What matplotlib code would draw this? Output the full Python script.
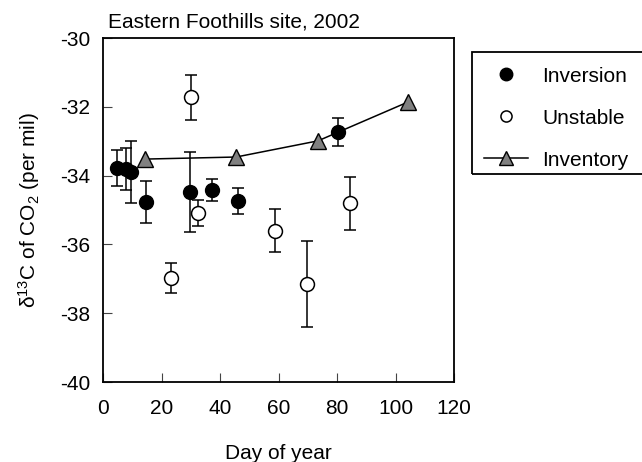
import matplotlib
matplotlib.use("Agg")
from matplotlib import pyplot as plt
from matplotlib.lines import Line2D
from matplotlib.patches import Rectangle

plt.rcParams['font.family'] = ['Liberation Sans', 'DejaVu Sans']
plt.rcParams['mathtext.fontset'] = 'custom'
plt.rcParams['mathtext.rm'] = 'Liberation Sans'
plt.rcParams['mathtext.it'] = 'Liberation Sans'
plt.rcParams['mathtext.default'] = 'regular'

# Inversion (filled circles)
inv_day = [4.8, 7.8, 9.5, 14.6, 29.6, 37.2, 46.3, 80.2]
inv_d13c = [-33.78, -33.80, -33.90, -34.77, -34.48, -34.42, -34.74, -32.73]
inv_err = [0.52, 0.61, 0.90, 0.60, 1.17, 0.32, 0.38, 0.40]

# Unstable (open circles)
uns_day = [23.2, 30.1, 32.5, 58.8, 69.7, 84.4]
uns_d13c = [-36.98, -31.72, -35.09, -35.60, -37.15, -34.80]
uns_err = [0.44, 0.65, 0.38, 0.62, 1.25, 0.77]

# Inventory (triangles)
ivt_day = [14.4, 45.5, 73.5, 104.3]
ivt_d13c = [-33.52, -33.46, -32.99, -31.86]

xticks = [0, 20, 40, 60, 80, 100, 120]
yticks = [-40, -38, -36, -34, -32, -30]

fig = plt.figure(figsize=(6.42, 4.62), dpi=100)
ax = fig.add_axes([103 / 642, 80 / 462, 351 / 642, 344 / 462])

# Inventory line
ax.plot(ivt_day, ivt_d13c, color='black', lw=1.1, marker='^', markersize=12,
        markerfacecolor='#808080', markeredgecolor='black', markeredgewidth=1.0, zorder=2)

# Unstable points
ax.errorbar(uns_day, uns_d13c, yerr=uns_err, fmt='o', color='black', ecolor='black',
            elinewidth=1.1, capsize=4, capthick=1.1, markersize=10,
            markerfacecolor='white', markeredgecolor='black', markeredgewidth=1.1, zorder=3)

# Inversion points
ax.errorbar(inv_day, inv_d13c, yerr=inv_err, fmt='o', color='black', ecolor='black',
            elinewidth=1.1, capsize=4, capthick=1.1, markersize=10,
            markerfacecolor='black', markeredgecolor='black', zorder=4)

ax.set_xlim(0, 120)
ax.set_ylim(-40, -30)
ax.set_xticks(xticks)
ax.set_yticks(yticks)
ax.set_xticklabels([str(t) for t in xticks])
ax.set_yticklabels([str(t) for t in yticks])
ax.tick_params(direction='in', length=6.5, width=0.8, labelsize=15, color='#444444')
ax.tick_params(axis='x', pad=12)
ax.tick_params(axis='y', pad=9)
for s in ax.spines.values():
    s.set_linewidth(1.3)

ax.set_xlabel('Day of year', fontsize=15, labelpad=19)
ax.set_ylabel('δ$^{13}$C of CO$_2$ (per mil)', fontsize=15, labelpad=13)
fig.text(108 / 642, 1 - 27 / 462, 'Eastern Foothills site, 2002', fontsize=15,
         ha='left', va='baseline')

# Legend box (runs off the right edge of the figure)
fig.patches.append(Rectangle((472 / 642, 1 - 174 / 462), 200 / 642, 122 / 462,
                             transform=fig.transFigure, fill=False,
                             edgecolor='black', lw=1.3))
handles = [
    Line2D([], [], ls='none', marker='o', markersize=9, markerfacecolor='black',
           markeredgecolor='black'),
    Line2D([], [], ls='none', marker='o', markersize=8, markerfacecolor='white',
           markeredgecolor='black', markeredgewidth=1.1),
    Line2D([], [], color='black', lw=1.1, marker='^', markersize=10,
           markerfacecolor='#808080', markeredgecolor='black'),
]
fig.legend(handles, ['Inversion', 'Unstable', 'Inventory'], loc='upper left',
           bbox_to_anchor=(465 / 642, 1 - 48 / 462), frameon=False, fontsize=15,
           handlelength=2.1, handletextpad=0.7, labelspacing=1.1)

plt.savefig('out.png', dpi=100)
plt.close()
